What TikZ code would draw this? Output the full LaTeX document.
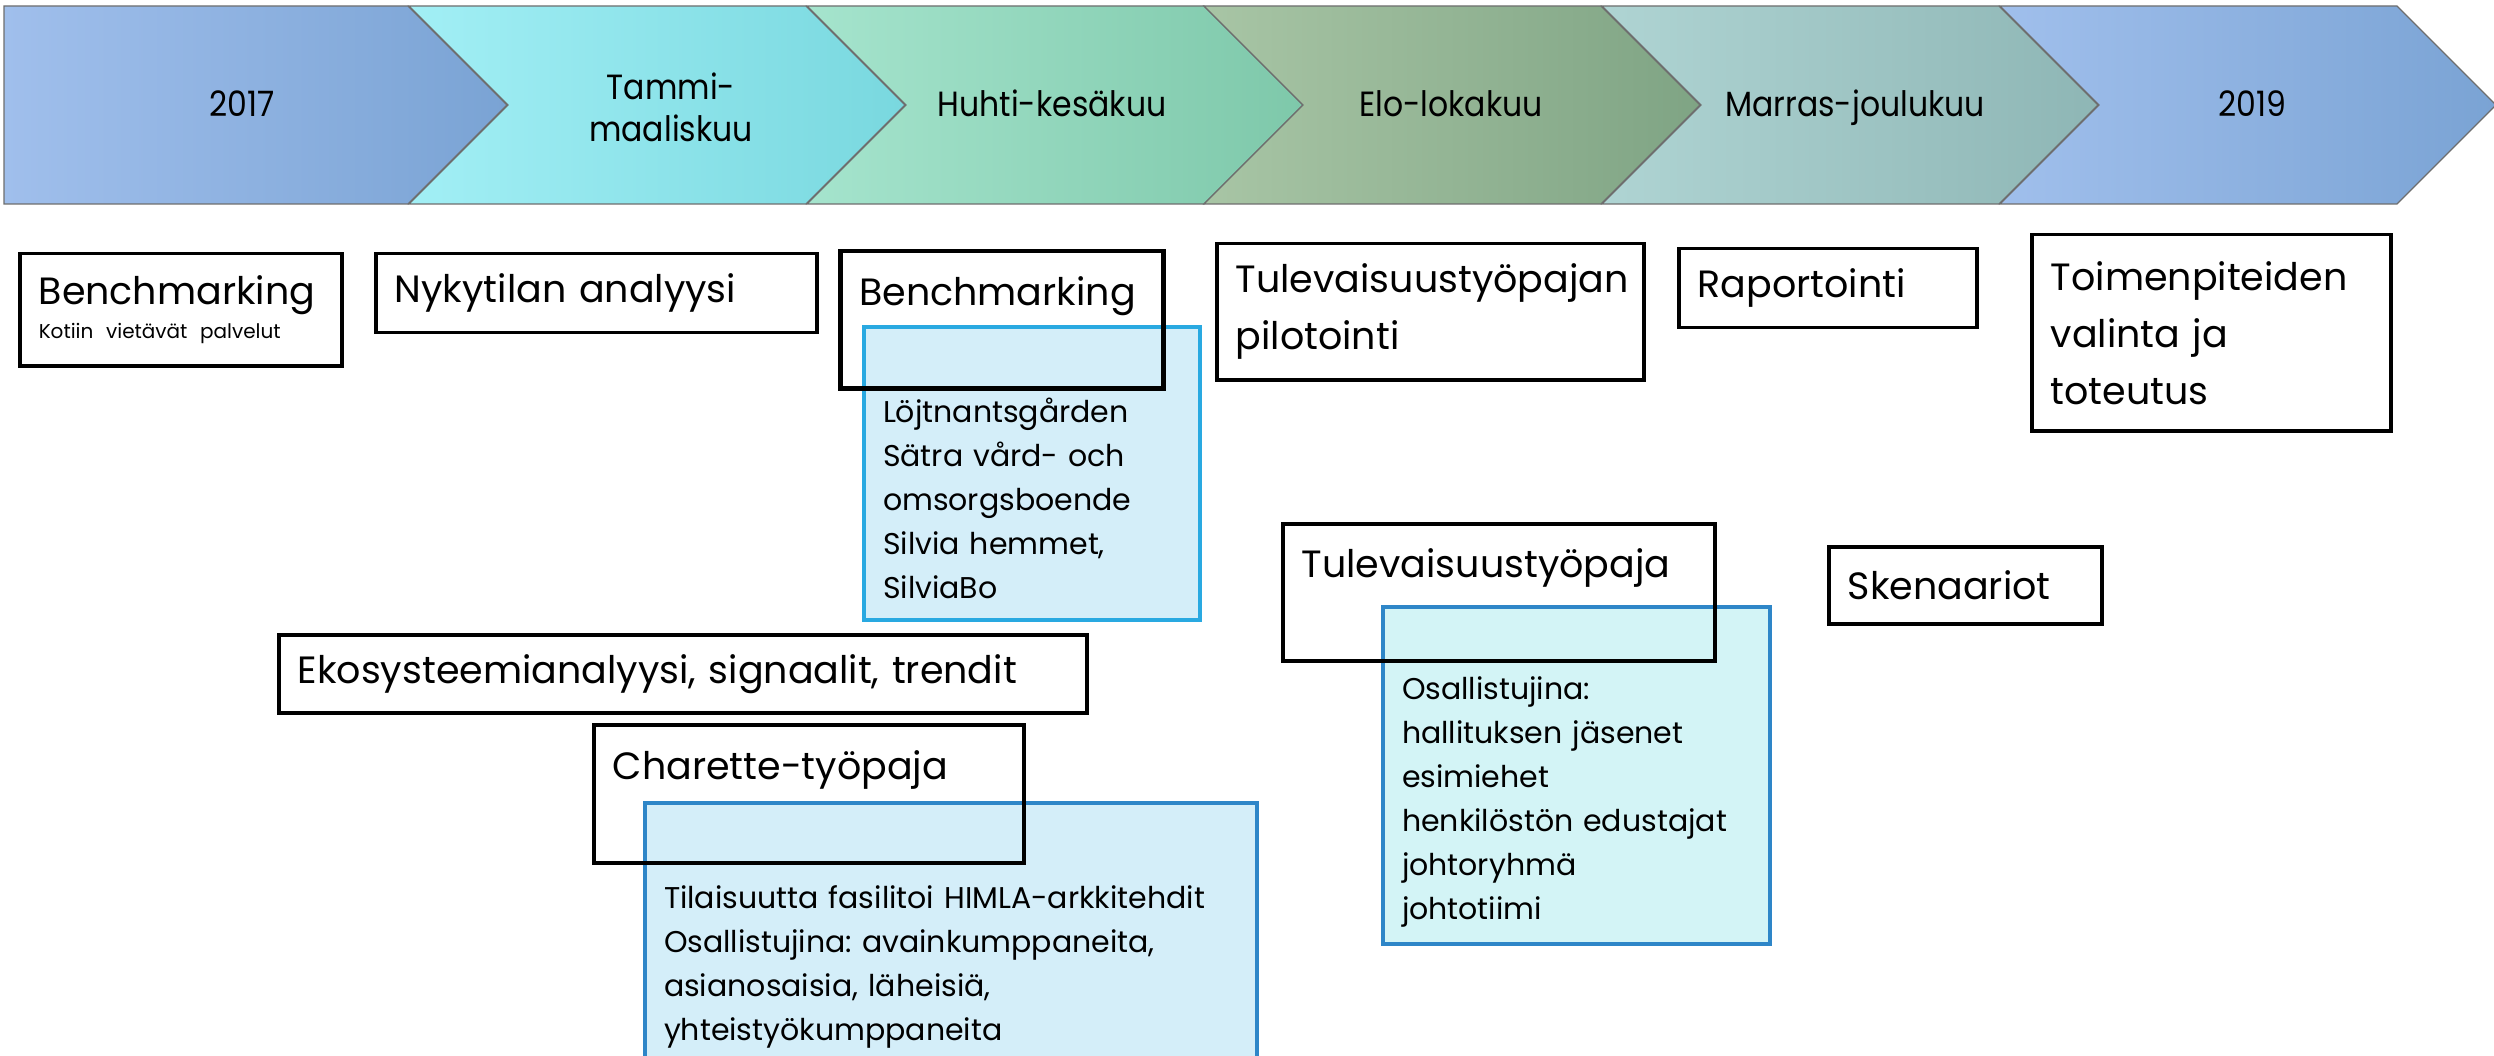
\documentclass[tikz,border=0pt]{standalone}
\usepackage{fontspec}
\setmainfont{Poppins}
\newfontfamily\phasefont{Poppins}[FakeStretch=0.9]
\usetikzlibrary{positioning}
\frenchspacing

\definecolor{phaseline}{RGB}{110, 110, 110}
\definecolor{yearL}{HTML}{A0BFEC}
\definecolor{yearR}{HTML}{7AA3D4}
\definecolor{springL}{HTML}{A2EFF5}
\definecolor{springR}{HTML}{79D8DF}
\definecolor{summerL}{HTML}{A5E4CD}
\definecolor{summerR}{HTML}{7EC8AA}
\definecolor{autumnL}{HTML}{A8C5A5}
\definecolor{autumnR}{HTML}{7FA484}
\definecolor{winterL}{HTML}{AFD4D3}
\definecolor{winterR}{HTML}{8EB6B5}
\definecolor{listfill}{HTML}{D4EEF9}
\definecolor{listfillb}{HTML}{D3F4F6}
\definecolor{listbright}{HTML}{29A9E1}
\definecolor{listdark}{HTML}{2E86C8}

\tikzset{
  chevron/.style={draw=phaseline, line width=1.2pt, line join=miter},
  phaselabel/.style={align=center, inner sep=0pt, font=\phasefont\fontsize{35}{42}\selectfont},
  taskbox/.style={draw=black, line width=3.5pt, anchor=north west, align=left,
    inner xsep=19pt, inner ysep=0pt, font=\fontsize{38}{57}\selectfont},
  listbox/.style={draw=listdark, fill=listfill, line width=4pt, anchor=north west, align=left,
    inner xsep=19pt, inner ysep=0pt, font=\fontsize{30}{44}\selectfont}
}

\begin{document}
\frenchspacing
\begin{tikzpicture}[x=1pt, y=-1pt]
  \path[fill=white] (0,0) rectangle (2494,1056);
  \useasboundingbox (0,0) rectangle (2494,1056);

  % timeline
  \path[chevron, left color=yearL, right color=yearR] (4,6) -- (408,6) -- (507,105) -- (408,204) -- (4,204) -- cycle;
  \foreach \x/\cl/\cr in {409/springL/springR, 807/summerL/summerR, 1204/autumnL/autumnR,
                          1602/winterL/winterR, 2000/yearL/yearR}
    \path[chevron, left color=\cl, right color=\cr] (\x,6) -- (\x+397,6) -- (\x+496,105)
      -- (\x+397,204) -- (\x,204) -- (\x+99,105) -- cycle;

  \node[phaselabel, anchor=base] (y2017) at (242,117) {2017};
  \node[phaselabel] (tammi) at (671,107) {Tammi-\\maaliskuu};
  \node[phaselabel, anchor=base] (huhti) at (1052,117) {Huhti-kesäkuu};
  \node[phaselabel, anchor=base] (elo) at (1451,117) {Elo-lokakuu};
  \node[phaselabel, anchor=base] (marras) at (1855,117) {Marras-joulukuu};
  \node[phaselabel, anchor=base] (y2019) at (2252,117) {2019};

  % participant lists
  \node[listbox, draw=listbright, minimum width=336pt, text width=298pt, minimum height=293pt] (benchList) at (862,325)
    {\strut\\Löjtnantsgården\\Sätra vård- och\\omsorgsboende\\Silvia hemmet,\\SilviaBo};
  \node[listbox, fill=listfillb, minimum width=387pt, text width=349pt, minimum height=337pt] (tulevList) at (1381,605)
    {\strut\\Osallistujina:\\hallituksen jäsenet\\esimiehet\\henkilöstön edustajat\\johtoryhmä\\johtotiimi};
  \node[listbox, minimum width=612pt, text width=574pt, minimum height=276pt] (charetteList) at (643,801)
    {\strut\\Tilaisuutta fasilitoi HIMLA-arkkitehdit\\Osallistujina: avainkumppaneita,\\asianosaisia, läheisiä,\\yhteistyökumppaneita};

  % tasks
  \node[taskbox, minimum width=322pt, text width=284pt, minimum height=112pt, font=\fontsize{38}{34}\selectfont] (bench1) at (18,252)
    {Benchmarking\\\mbox{\fontsize{20}{34}\selectfont Kotiin vietävät palvelut}};
  \node[taskbox, minimum width=441pt, text width=403pt, minimum height=79pt] (nyky) at (374,252) {Nykytilan analyysi};
  \node[taskbox, line width=4.5pt, minimum width=323pt, text width=285pt, minimum height=137pt] (bench2) at (838,249) {Benchmarking\\[-16pt]\strut};
  \node[taskbox, minimum width=427pt, text width=389pt, minimum height=136pt] (pilot) at (1215,242) {Tulevaisuustyöpajan\\pilotointi};
  \node[taskbox, minimum width=298pt, text width=260pt, minimum height=79pt] (raport) at (1677,247) {Raportointi};
  \node[taskbox, minimum width=359pt, text width=321pt, minimum height=196pt] (toimen) at (2030,233) {Toimenpiteiden\\valinta ja\\toteutus};
  \node[taskbox, minimum width=432pt, text width=394pt, minimum height=137pt] (tulev) at (1281,522) {Tulevaisuustyöpaja\\[-16pt]\strut};
  \node[taskbox, minimum width=273pt, text width=235pt, minimum height=77pt] (skena) at (1827,545) {Skenaariot};
  \node[taskbox, minimum width=808pt, text width=770pt, minimum height=78pt] (ekosys) at (277,633) {Ekosysteemianalyysi, signaalit, trendit};
  \node[taskbox, minimum width=430pt, text width=392pt, minimum height=138pt] (charette) at (592,723) {Charette-työpaja\\[-16pt]\strut};
\end{tikzpicture}
\end{document}
